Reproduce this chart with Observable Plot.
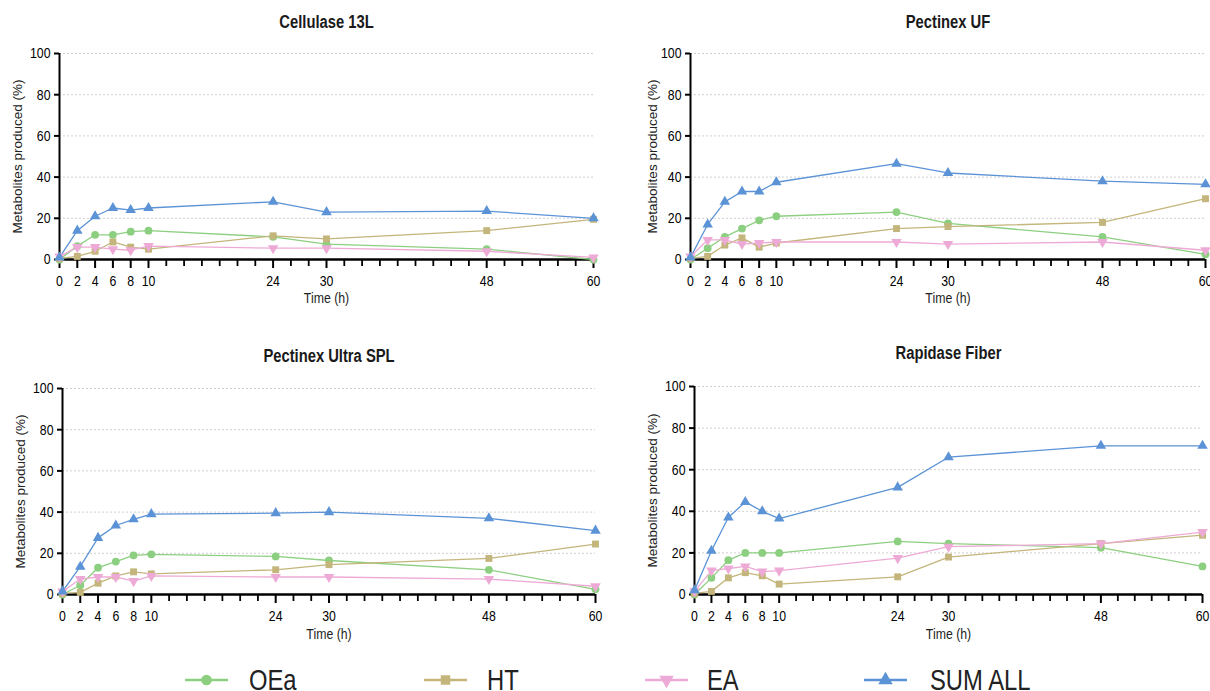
<!DOCTYPE html>
<html>
<head>
<meta charset="utf-8">
<script src="https://cdn.jsdelivr.net/npm/d3@7"></script>
<script src="https://cdn.jsdelivr.net/npm/@observablehq/plot@0.6"></script>
<style>
  html, body { margin: 0; padding: 0; background: #fff; }
  #root { position: relative; width: 1210px; height: 691px; overflow: hidden; }
  .panel { position: absolute; }
  .legend-swatch { position: absolute; top: 664px; }
  .legend-text { position: absolute; top: 661px; height: 38px; line-height: 38px; white-space: nowrap;
    font-family: "Liberation Sans", Arial, sans-serif; font-size: 29px; color: #222;
    transform: scaleX(0.82); transform-origin: left center; }
</style>
</head>
<body>
<div id="root"></div>
<script>
// ---- data ----
const times = [0, 2, 4, 6, 8, 10, 24, 30, 48, 60];
const labeledTicks = [0, 2, 4, 6, 8, 10, 24, 30, 48, 60];
const minorTicks = [12, 14, 16, 18, 20, 22, 26, 28, 32, 34, 36, 38, 40, 42, 44, 46, 50, 52, 54, 56, 58];
const yTicks = [0, 20, 40, 60, 80, 100];
const gridValues = [20, 40, 60, 80, 100];
const seriesNames = ["OEa", "HT", "EA", "SUM ALL"];
const seriesColors = ["#8dcf80", "#c3b57b", "#eeaad6", "#5b93d6"];
const panelTitles = ["Cellulase 13L", "Pectinex UF", "Pectinex Ultra SPL", "Rapidase Fiber"];
const yLabel = "Metabolites produced (%)";
const xLabel = "Time (h)";

const cellulase_OEa = [0, 6.5, 12, 12, 13.5, 14, 11, 7.5, 5, 0];
const cellulase_HT  = [0.5, 1.5, 4, 8.5, 6, 5, 11.5, 10, 14, 19.5];
const cellulase_EA  = [1.5, 6, 6, 5, 4.5, 6.5, 5.5, 5.5, 4, 1];
const cellulase_SUM = [1, 14, 21, 25, 24, 25, 28, 23, 23.5, 20];

const pectinexUF_OEa = [0, 5.5, 11, 15, 19, 21, 23, 17.5, 11, 2.5];
const pectinexUF_HT  = [0.5, 1.5, 7, 10.5, 6, 8, 15, 16, 18, 29.5];
const pectinexUF_EA  = [1.5, 9.5, 9.5, 7.5, 8, 8.5, 8.5, 7.5, 8.5, 4.5];
const pectinexUF_SUM = [1, 17, 28, 33, 33, 37.5, 46.5, 42, 38, 36.5];

const ultraSPL_OEa = [0, 4.5, 13, 16, 19, 19.5, 18.5, 16.5, 12, 2.5];
const ultraSPL_HT  = [0.5, 1, 5.5, 9, 11, 10, 12, 14.5, 17.5, 24.5];
const ultraSPL_EA  = [1.5, 7.5, 8.5, 8.5, 6.5, 9, 8.5, 8.5, 7.5, 4];
const ultraSPL_SUM = [1.5, 13.5, 27.5, 33.5, 36.5, 39, 39.5, 40, 37, 31];

const rapidase_OEa = [0, 8, 16.5, 20, 20, 20, 25.5, 24.5, 22.5, 13.5];
const rapidase_HT  = [0.5, 1.5, 8, 10.5, 9, 5, 8.5, 18, 24.5, 28.5];
const rapidase_EA  = [1.5, 11.5, 12.5, 13.5, 11, 11.5, 17.5, 23, 24.5, 30];
const rapidase_SUM = [2, 21, 37, 44.5, 40, 36.5, 51.5, 66, 71.5, 71.5];

const panelData = [
  [cellulase_OEa, cellulase_HT, cellulase_EA, cellulase_SUM],
  [pectinexUF_OEa, pectinexUF_HT, pectinexUF_EA, pectinexUF_SUM],
  [ultraSPL_OEa, ultraSPL_HT, ultraSPL_EA, ultraSPL_SUM],
  [rapidase_OEa, rapidase_HT, rapidase_EA, rapidase_SUM]
];

// ---- symbols ----
const triangleDown = {
  draw(context, size) {
    const y = -Math.sqrt(size / (Math.sqrt(3) * 3));
    context.moveTo(0, -y * 2);
    context.lineTo(-Math.sqrt(3) * y, y);
    context.lineTo(Math.sqrt(3) * y, y);
    context.closePath();
  }
};
const seriesSymbols = [d3.symbolCircle, d3.symbolSquare, triangleDown, d3.symbolTriangle];

const sans = '"Liberation Sans", Arial, sans-serif';
const SQUEEZE = 0.82;

// ---- layout ----
const layouts = [
  {left: 0,   top: 0,   width: 605, height: 310, mt: 53, mb: 51, ml: 59, mr: 12, titleDy: -31, timeDy: 39, ylabDx: -42},
  {left: 605, top: 0,   width: 605, height: 310, mt: 53, mb: 51, ml: 85, mr: 5,  titleDy: -31, timeDy: 39, ylabDx: -38},
  {left: 0,   top: 330, width: 605, height: 330, mt: 58, mb: 66, ml: 62, mr: 10, titleDy: -32, timeDy: 40, ylabDx: -42},
  {left: 605, top: 330, width: 605, height: 330, mt: 56, mb: 66, ml: 89, mr: 8,  titleDy: -33, timeDy: 40, ylabDx: -42}
];

const root = document.getElementById("root");

panelData.forEach((series, pi) => {
  const L = layouts[pi];
  const pxPerY = (L.height - L.mt - L.mb) / 100;
  const pxPerX = (L.width - L.ml - L.mr) / 60;
  const marks = [
    Plot.ruleY(gridValues, {stroke: "#cfcfcf", strokeWidth: 1, strokeDasharray: "2,2"}),
    Plot.ruleY([0], {stroke: "black", strokeWidth: 2.5}),
    Plot.ruleX([0], {stroke: "black", strokeWidth: 2}),
    Plot.ruleX(labeledTicks, {x: d => d, y1: 0, y2: -9 / pxPerY, stroke: "black", strokeWidth: 2}),
    Plot.ruleX(minorTicks, {x: d => d, y1: 0, y2: -7 / pxPerY, stroke: "black", strokeWidth: 1.8}),
    Plot.ruleY(yTicks, {y: d => d, x1: -5 / pxPerX, x2: 0, stroke: "black", strokeWidth: 2})
  ];
  series.forEach((vals, si) => {
    const rows = times.map((t, i) => ({time: t, value: vals[i]}));
    marks.push(Plot.line(rows, {x: "time", y: "value", stroke: seriesColors[si], strokeWidth: 1.3}));
  });
  series.forEach((vals, si) => {
    const rows = times.map((t, i) => ({time: t, value: vals[i]}));
    marks.push(Plot.dot(rows, {x: "time", y: "value", fill: seriesColors[si], stroke: "none", symbol: seriesSymbols[si], r: 3.9}));
  });
  marks.push(Plot.text([panelTitles[pi]], {text: d => d, frameAnchor: "top", lineAnchor: "middle", dy: L.titleDy, fontSize: 18, fontWeight: "bold", fontFamily: sans, fill: "#1a1a1a"}));
  marks.push(Plot.text([xLabel], {text: d => d, frameAnchor: "bottom", lineAnchor: "middle", dy: L.timeDy, fontSize: 15, fontFamily: sans, fill: "#222"}));
  marks.push(Plot.text([yLabel], {text: d => d, frameAnchor: "left", textAnchor: "middle", lineAnchor: "middle", dx: L.ylabDx, rotate: -90, fontSize: 13.5, fontFamily: sans, fill: "#222"}));

  const chart = Plot.plot({
    width: L.width,
    height: L.height,
    marginTop: L.mt,
    marginBottom: L.mb,
    marginLeft: L.ml,
    marginRight: L.mr,
    style: {fontFamily: sans, fontSize: "15px"},
    x: {domain: [0, 60], ticks: labeledTicks, tickSize: 0, tickPadding: 16, label: null},
    y: {domain: [0, 100], ticks: yTicks, tickSize: 0, tickPadding: 9, label: null},
    marks
  });
  chart.classList.add("panel");
  chart.style.left = L.left + "px";
  chart.style.top = L.top + "px";
  root.appendChild(chart);
  // narrow the Arial-metric text to mimic the condensed face of the original
  chart.querySelectorAll("text").forEach(t => {
    if (t.textContent === yLabel) return;
    const len = t.getComputedTextLength();
    if (len > 0) {
      t.setAttribute("textLength", (len * SQUEEZE).toFixed(2));
      t.setAttribute("lengthAdjust", "spacingAndGlyphs");
    }
  });
});

// ---- legend ----
const swatchPos = [185, 424, 645, 864];
const textPos = [249, 487, 707, 930];
seriesNames.forEach((name, si) => {
  const svg = d3.create("svg").attr("class", "legend-swatch").attr("width", 43).attr("height", 32)
    .style("left", swatchPos[si] + "px");
  svg.append("line").attr("x1", 0).attr("x2", 43).attr("y1", 16).attr("y2", 16)
    .attr("stroke", seriesColors[si]).attr("stroke-width", 2.5);
  svg.append("path").attr("transform", "translate(21.5,16)")
    .attr("d", d3.symbol(seriesSymbols[si], 90)()).attr("fill", seriesColors[si]);
  root.appendChild(svg.node());
  const span = document.createElement("div");
  span.className = "legend-text";
  span.style.left = textPos[si] + "px";
  span.textContent = name;
  root.appendChild(span);
});
</script>
</body>
</html>
